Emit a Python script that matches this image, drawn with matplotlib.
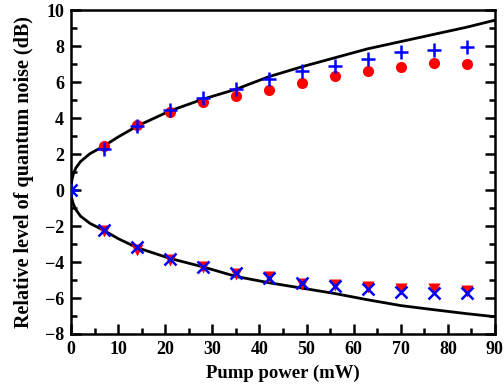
import numpy as np
import matplotlib
matplotlib.use("Agg")
import matplotlib.pyplot as plt
from matplotlib.ticker import MultipleLocator

# measured points (pump power, mW)
power = [0, 7, 14, 21, 28, 35, 42, 49, 56, 63, 70, 77, 84]

# anti-squeezing (upper branch)
anti_circ = [0.0, 2.44, 3.61, 4.35, 4.87, 5.22, 5.56, 5.93, 6.33, 6.63, 6.85, 7.04, 6.98]
anti_plus = [0.0, 2.3, 3.55, 4.44, 5.09, 5.6, 6.15, 6.63, 6.91, 7.28, 7.65, 7.81, 7.93]

# squeezing (lower branch)
sq_tri = [0.0, -2.26, -3.33, -3.89, -4.3, -4.67, -4.85, -5.22, -5.28, -5.37, -5.5, -5.5, -5.6]
sq_x = [0.0, -2.2, -3.18, -3.85, -4.25, -4.62, -4.9, -5.17, -5.33, -5.52, -5.65, -5.7, -5.7]

# theory curves
th_up_x = [0, 0.05, 0.2, 0.5, 1, 2, 4, 7, 10, 14, 21, 28, 35, 42, 49, 56, 63, 70, 77, 84, 90]
th_up_y = [0, 0.3, 0.58, 0.9, 1.22, 1.58, 2.02, 2.45, 2.95, 3.55, 4.4, 5.05, 5.6, 6.3, 6.85, 7.35, 7.85, 8.25, 8.65, 9.05, 9.44]
th_dn_x = [0, 0.05, 0.2, 0.5, 1, 2, 4, 7, 10, 14, 21, 28, 35, 42, 49, 56, 63, 70, 77, 84, 90]
th_dn_y = [0, -0.28, -0.52, -0.78, -1.08, -1.45, -1.85, -2.25, -2.7, -3.2, -3.8, -4.27, -4.8, -5.15, -5.45, -5.75, -6.1, -6.42, -6.65, -6.87, -7.04]

plt.rcParams["font.family"] = ["Liberation Serif", "DejaVu Serif"]
plt.rcParams["font.weight"] = "bold"

fig = plt.figure(figsize=(5.04, 3.9), dpi=100)
ax = fig.add_axes([0.141, 0.1436, 0.841, 0.8305])

ax.plot(th_up_x, th_up_y, color="black", lw=2, zorder=2)
ax.plot(th_dn_x, th_dn_y, color="black", lw=2, zorder=2)

ax.plot(power[1:], anti_circ[1:], "o", color="red", ms=8, mec="none", zorder=3)
ax.plot(power, anti_plus, "+", color="blue", ms=10, mew=1.8, zorder=4)
ax.plot(power[1:], sq_tri[1:], "v", color="red", ms=9, mec="none", zorder=3)
ax.plot(power, sq_x, "x", color="blue", ms=9, mew=1.8, zorder=4)

ax.set_xlim(0, 90)
ax.set_ylim(-8, 10)
ax.xaxis.set_major_locator(MultipleLocator(10))
ax.xaxis.set_minor_locator(MultipleLocator(5))
ax.yaxis.set_major_locator(MultipleLocator(2))
ax.yaxis.set_minor_locator(MultipleLocator(1))
ax.tick_params(which="both", direction="in", width=1.8, labelsize=13,
               top=False, right=True, bottom=True, left=True)
ax.tick_params(which="major", length=7, pad=5)
ax.tick_params(which="minor", length=4)
for s in ax.spines.values():
    s.set_linewidth(1.8)
for lab in ax.get_xticklabels() + ax.get_yticklabels():
    lab.set_fontweight("bold")

ax.set_xlabel("Pump power (mW)", fontsize=13.5, fontweight="bold", labelpad=5)
ax.set_ylabel("Relative level of quantum noise (dB)", fontsize=14.5, fontweight="bold", labelpad=8)

fig.savefig("out.png", dpi=100)
